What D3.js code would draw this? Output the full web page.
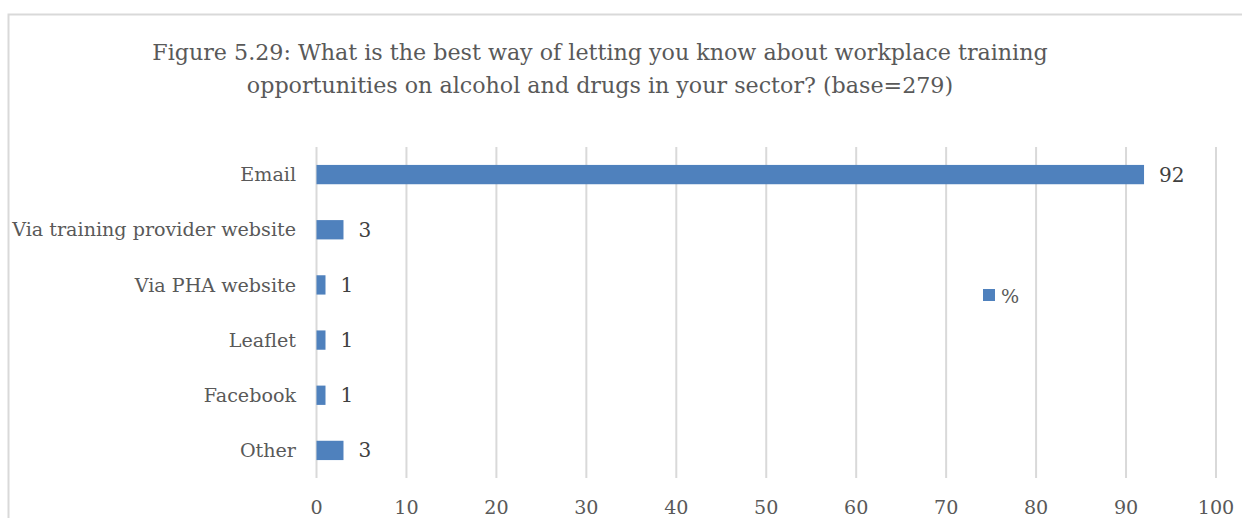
<!DOCTYPE html>
<html><head><meta charset="utf-8">
<script src="https://cdn.jsdelivr.net/npm/d3@7"></script>
<style>body{margin:0;background:#fff}svg{display:block}text{font-family:"DejaVu Serif","Liberation Serif",serif}</style>
</head><body>
<svg id="c" width="1242" height="518"></svg>
<script>
const categories = ["Email","Via training provider website","Via PHA website","Leaflet","Facebook","Other"];
const values = [92,3,1,1,1,3];
const ticks = [0,10,20,30,40,50,60,70,80,90,100];
const titleLines = ["Figure 5.29: What is the best way of letting you know about workplace training","opportunities on alcohol and drugs in your sector? (base=279)"];
const seriesName = "%";

const svg = d3.select("#c");
svg.append("rect").attr("x",8.5).attr("y",14.5).attr("width",1240).attr("height",520)
  .attr("fill","#fff").attr("stroke","#d9d9d9").attr("stroke-width",2);

const x = d3.scaleLinear().domain([0,100]).range([316.5,1216]);
const y = d3.scaleBand().domain(categories).range([147,478]).paddingInner(0.65).paddingOuter(0.325);

// fit a font size so a text node spans the target width
function fit(sel, target){
  const n = sel.node(); const fs = +sel.attr("font-size");
  const w = n.getComputedTextLength();
  sel.attr("font-size", fs*target/w);
  return fs*target/w;
}

const t = svg.selectAll(".title").data(titleLines).enter().append("text")
  .attr("x",600).attr("y",(d,i)=>60+i*33).attr("text-anchor","middle")
  .attr("font-size",24).attr("fill","#595959").text(d=>d);
const tfs = fit(d3.select(t.nodes()[0]), 896);
t.attr("font-size", tfs);

svg.append("g").selectAll("line").data(ticks).enter().append("line")
  .attr("x1",d=>x(d)).attr("x2",d=>x(d)).attr("y1",147).attr("y2",478)
  .attr("stroke","#d9d9d9").attr("stroke-width",2);

svg.append("g").selectAll("rect").data(values).enter().append("rect")
  .attr("x",x(0)).attr("y",(d,i)=>y(categories[i])).attr("height",y.bandwidth())
  .attr("width",d=>x(d)-x(0)).attr("fill","#4f81bd");

const cl = svg.append("g").selectAll("text").data(categories).enter().append("text")
  .attr("x",296).attr("y",d=>y(d)+y.bandwidth()/2).attr("dy","0.35em")
  .attr("text-anchor","end").attr("font-size",20).attr("fill","#595959").text(d=>d);
const lfs = fit(d3.select(cl.nodes()[1]), 284);
cl.attr("font-size", lfs);

svg.append("g").selectAll("text").data(values).enter().append("text")
  .attr("x",d=>x(d)+15).attr("y",(d,i)=>y(categories[i])+y.bandwidth()/2)
  .attr("dy","0.35em").attr("font-size",lfs*1.05).attr("fill","#404040").text(d=>d);

svg.append("g").selectAll("text").data(ticks).enter().append("text")
  .attr("x",d=>x(d)).attr("y",507).attr("dy","0.35em").attr("text-anchor","middle")
  .attr("font-size",lfs).attr("fill","#595959").text(d=>d);

svg.append("rect").attr("x",983).attr("y",289).attr("width",12).attr("height",12).attr("fill","#4f81bd");
svg.append("text").attr("x",1001).attr("y",296).attr("dy","0.35em").attr("font-size",lfs).attr("fill","#595959").text(seriesName);
</script>
</body></html>
